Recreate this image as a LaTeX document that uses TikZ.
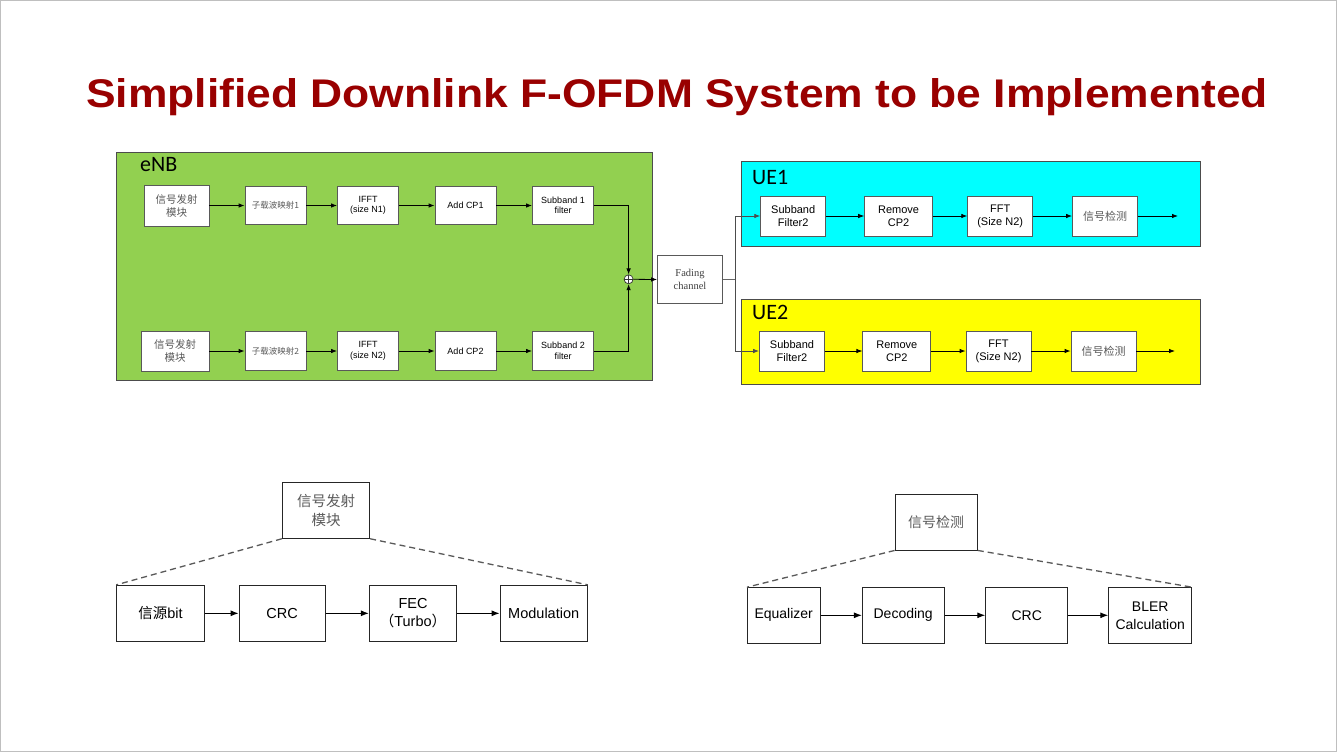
\documentclass[tikz,border=0pt]{standalone}
\usepackage{fontspec}
\setmainfont{Liberation Sans}
\newfontfamily\cjk{Noto Sans CJK SC}
\newfontfamily\calib{Carlito}
\newfontfamily\tms{Liberation Serif}
\usetikzlibrary{arrows.meta}
\definecolor{titlered}{HTML}{990000}
\definecolor{enbgreen}{HTML}{92D050}
\definecolor{uecyan}{HTML}{00FFFF}
\definecolor{ueyellow}{HTML}{FFFF00}
\definecolor{boxline}{HTML}{595959}
\definecolor{cjkgray}{HTML}{5A5A5A}
\tikzset{
  arr/.style={draw=black, line width=0.8pt, -{Latex[length=6pt,width=4.5pt]}},
  bigarr/.style={draw=black, line width=1pt, -{Latex[length=8pt,width=6pt]}},
  sbox/.style={draw=boxline, fill=white, line width=0.8pt, inner sep=0pt, align=center, minimum width=61pt, minimum height=38.6pt, font=\fontsize{9}{10.5}\selectfont},
  ubox/.style={draw=boxline, fill=white, line width=0.8pt, inner sep=0pt, align=center, minimum width=65pt, minimum height=40pt, font=\fontsize{11}{13}\selectfont},
  bbox/.style={draw=black!85, fill=white, line width=0.9pt, inner sep=0pt, align=center, minimum width=87pt, minimum height=56pt, font=\fontsize{14.5}{18}\selectfont},
  region/.style={draw=black!70, line width=0.8pt},
  reglabel/.style={anchor=west, inner sep=0pt, font=\calib\fontsize{22}{24}\selectfont},
  dashln/.style={draw=black!65, line width=1.3pt, dash pattern=on 6pt off 4pt},
}
\begin{document}
\begin{tikzpicture}[x=1pt,y=-1pt]
\useasboundingbox (0,0) rectangle (1337,752);
\draw[draw=black!25, line width=1pt] (0.5,0.5) rectangle (1336.5,751.5);

% Title
\node[anchor=base, inner sep=0pt, text=titlered, font=\bfseries\fontsize{40}{44}\selectfont] (title) at (677,107) {\scalebox{1.11}[1]{Simplified Downlink F-OFDM System to be Implemented}};

% eNB region
\draw[region, fill=enbgreen] (116,152) rectangle (652,380);
\node[reglabel] (enbl) at (140,165) {eNB};

% Row 1
\node[sbox, minimum width=65pt, minimum height=41pt, text=cjkgray, font=\cjk\fontsize{10.5}{13}\selectfont] (a1) at (176.5,205.5) {信号发射\\模块};
\node[sbox, text=cjkgray, font=\cjk\fontsize{8.5}{10}\selectfont] (a2) at (275.5,205.5) {子载波映射1};
\node[sbox] (a3) at (368,205.5) {IFFT\\(size N1)};
\node[sbox] (a4) at (465.5,205.5) {Add CP1};
\node[sbox] (a5) at (563,205.5) {Subband 1\\filter};

% Row 2
\node[sbox, minimum width=68pt, minimum height=40pt, text=cjkgray, font=\cjk\fontsize{10.5}{13}\selectfont] (b1) at (175,351) {信号发射\\模块};
\node[sbox, text=cjkgray, font=\cjk\fontsize{8.5}{10}\selectfont] (b2) at (275.5,351) {子载波映射2};
\node[sbox] (b3) at (368,351) {IFFT\\(size N2)};
\node[sbox] (b4) at (465.5,351) {Add CP2};
\node[sbox] (b5) at (563,351) {Subband 2\\filter};

\draw[arr] (a1) -- (a2);
\draw[arr] (a2) -- (a3);
\draw[arr] (a3) -- (a4);
\draw[arr] (a4) -- (a5);
\draw[arr] (b1) -- (b2);
\draw[arr] (b2) -- (b3);
\draw[arr] (b3) -- (b4);
\draw[arr] (b4) -- (b5);

% Summing junction
\node[circle, draw=black!80, fill=white, line width=0.7pt, minimum size=9pt, inner sep=0pt,
  path picture={\draw[black!80, line width=0.6pt] (path picture bounding box.north) -- (path picture bounding box.south)
  (path picture bounding box.west) -- (path picture bounding box.east);}] (sum) at (628.6,279.3) {};
\draw[arr] (a5.east) -| (sum.north);
\draw[arr] (b5.east) -| (sum.south);

% Fading channel
\node[draw=boxline, fill=white, line width=0.8pt, inner sep=0pt, align=center, minimum width=65pt, minimum height=48pt, text=black!75, font=\tms\fontsize{10.5}{13.5}\selectfont] (fade) at (690,279.5) {Fading\\channel};
\draw[arr] (sum.east) -- (fade.west);

% UE1 region
\draw[region, fill=uecyan] (741,161) rectangle (1200,246.5);
\node[reglabel] (ue1l) at (752,177) {UE1};
\node[ubox] (u1a) at (793.2,216) {Subband\\Filter2};
\node[ubox, minimum width=68pt] (u1b) at (898.6,216) {Remove\\CP2};
\node[ubox] (u1c) at (1000.2,216) {FFT\\(Size N2)};
\node[ubox, text=cjkgray, font=\cjk\fontsize{11}{13}\selectfont] (u1d) at (1105,216) {信号检测};
\coordinate (u1out) at (1178,216);
\draw[arr] (u1a) -- (u1b);
\draw[arr] (u1b) -- (u1c);
\draw[arr] (u1c) -- (u1d);
\draw[arr] (u1d) -- (u1out);

% UE2 region
\draw[region, fill=ueyellow] (741,299) rectangle (1200,384.3);
\node[reglabel] (ue2l) at (752,312) {UE2};
\node[ubox] (u2a) at (792,351) {Subband\\Filter2};
\node[ubox, minimum width=68pt] (u2b) at (896.8,351) {Remove\\CP2};
\node[ubox] (u2c) at (998.5,351) {FFT\\(Size N2)};
\node[ubox, text=cjkgray, font=\cjk\fontsize{11}{13}\selectfont] (u2d) at (1103.5,351) {信号检测};
\coordinate (u2out) at (1175,351);
\draw[arr] (u2a) -- (u2b);
\draw[arr] (u2b) -- (u2c);
\draw[arr] (u2c) -- (u2d);
\draw[arr] (u2d) -- (u2out);

% Branch from fading channel
\coordinate (br) at (735.5,279.5);
\draw[draw=black!60, line width=0.8pt] (fade.east) -- (br);
\draw[arr, draw=black!70] (br) |- (u1a.west);
\draw[arr, draw=black!70] (br) |- (u2a.west);

% Bottom left: transmitter detail
\node[bbox, minimum width=87.4pt, minimum height=55.6pt, text=cjkgray, font=\cjk\fontsize{14.5}{19}\selectfont] (tx) at (326,510.5) {信号发射\\模块};
\node[bbox, minimum width=87.6pt] (s1) at (160.5,613.3) {{\cjk 信源}bit};
\node[bbox, minimum width=86.3pt] (s2) at (282.2,613.3) {CRC};
\node[bbox, minimum width=87.4pt] (s3) at (413,613.3) {FEC\\{\cjk （}Turbo{\cjk ）}};
\node[bbox, minimum width=87.3pt] (s4) at (543.7,613.3) {Modulation};
\draw[bigarr] (s1) -- (s2);
\draw[bigarr] (s2) -- (s3);
\draw[bigarr] (s3) -- (s4);
\draw[dashln] (tx.south west) -- (s1.north west);
\draw[dashln] (tx.south east) -- (s4.north east);

% Bottom right: detection detail
\node[bbox, minimum width=82.3pt, minimum height=56pt, text=cjkgray, font=\cjk\fontsize{14}{18}\selectfont] (rx) at (936.2,522) {信号检测};
\node[bbox, minimum width=72.7pt, minimum height=55.3pt, font=\fontsize{14}{18}\selectfont] (r1) at (783.7,615.3) {Equalizer};
\node[bbox, minimum width=81.7pt, minimum height=55.3pt, font=\fontsize{14}{18}\selectfont] (r2) at (903.2,615.3) {Decoding};
\node[bbox, minimum width=82pt, minimum height=55.3pt, font=\fontsize{14}{18}\selectfont] (r3) at (1026.7,615.3) {CRC};
\node[bbox, minimum width=83pt, minimum height=55.3pt, font=\fontsize{14}{18}\selectfont] (r4) at (1150.2,615.3) {BLER\\Calculation};
\draw[bigarr] (r1) -- (r2);
\draw[bigarr] (r2) -- (r3);
\draw[bigarr] (r3) -- (r4);
\draw[dashln] (rx.south west) -- (r1.north west);
\draw[dashln] (rx.south east) -- (r4.north east);
\end{tikzpicture}
\end{document}
